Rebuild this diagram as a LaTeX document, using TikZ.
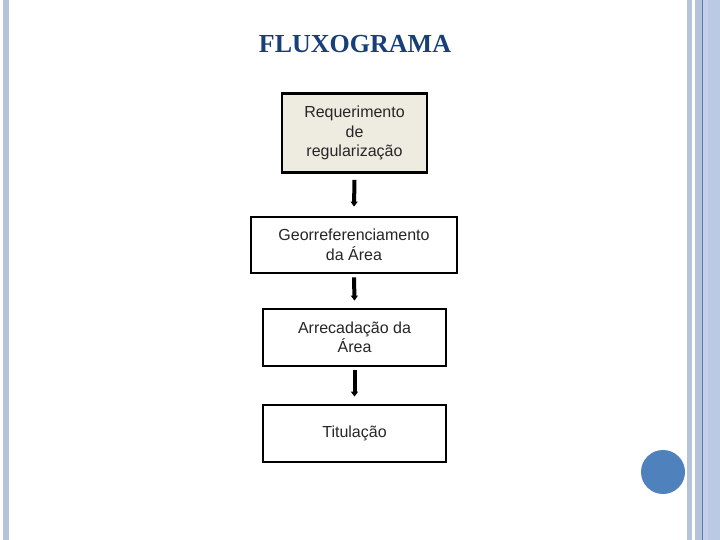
\documentclass[tikz,border=0pt]{standalone}
\usepackage{fontspec}
\setmainfont{Liberation Sans}
\newfontfamily\titlefont{Liberation Serif}
\usetikzlibrary{arrows.meta}
\definecolor{titleblue}{RGB}{23,64,120}
\definecolor{stripeA}{RGB}{180,194,218}
\definecolor{stripeB}{RGB}{188,201,227}
\definecolor{stripeC}{RGB}{196,208,232}
\definecolor{stripeLine}{RGB}{90,120,175}
\definecolor{dotblue}{RGB}{79,129,189}
\definecolor{boxbeige}{RGB}{238,236,225}
\tikzset{
  flowbox/.style={draw=black, line width=2.8pt, align=center, inner sep=0pt,
    font=\fontsize{16}{19.5}\selectfont, text=black!85},
  flowarrow/.style={line width=4pt, -{Triangle[length=5pt,width=7pt]}},
}
\begin{document}
\begin{tikzpicture}[x=1pt,y=-1pt]
\useasboundingbox (0,0) rectangle (720,540);
\fill[white] (0,0) rectangle (720,540);
% left stripe
\fill[stripeA] (3,0) rectangle (9,540);
% right stripes
\fill[stripeA] (687,0) rectangle (692,540);
\fill[stripeA] (695,0) rectangle (702,540);
\fill[stripeC] (703,0) rectangle (708,540);
\fill[stripeB] (708,0) rectangle (720,540);
\fill[stripeLine] (702,0) rectangle (703,540);
% dot
\fill[dotblue] (663,472) circle (22);
% title
\node (title) at (355,44) {\titlefont\bfseries\fontsize{26}{30}\selectfont\color{titleblue}FLUXOGRAMA};
% boxes
\node[flowbox, fill=boxbeige, minimum width=145, minimum height=79] (b1) at (354.5,133) {Requerimento\\de\\regularização};
\node[flowbox, minimum width=206, minimum height=56] (b2) at (354,245) {Georreferenciamento\\da Área};
\node[flowbox, minimum width=183, minimum height=57] (b3) at (354.5,337.5) {Arrecadação da\\Área};
\node[flowbox, minimum width=183, minimum height=57] (b4) at (354.5,433.5) {Titulação};
% arrows
\draw[flowarrow] ([yshift=-6]b1.south) -- ([yshift=9]b2.north);
\draw[flowarrow] ([yshift=-3]b2.south) -- ([yshift=7]b3.north);
\draw[flowarrow] ([yshift=-3]b3.south) -- ([yshift=7]b4.north);
\end{tikzpicture}
\end{document}
